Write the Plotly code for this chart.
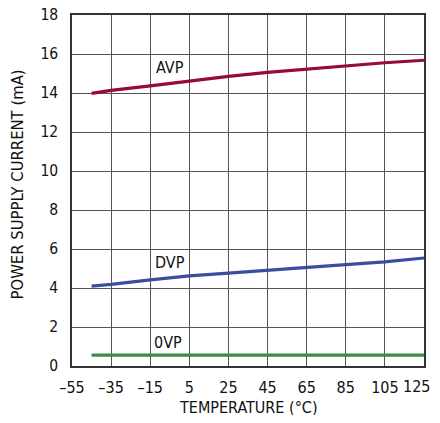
import plotly.graph_objects as go

temps = [-45, -35, -15, 5, 25, 45, 65, 85, 105, 125]
avp = [13.98, 14.13, 14.37, 14.62, 14.85, 15.06, 15.23, 15.39, 15.55, 15.68]
dvp = [4.10, 4.19, 4.42, 4.62, 4.76, 4.92, 5.07, 5.20, 5.34, 5.54]
ovp = [0.56, 0.56, 0.56, 0.56, 0.56, 0.56, 0.56, 0.56, 0.56, 0.56]

x_ticks = [-55, -35, -15, 5, 25, 45, 65, 85, 105, 125]
x_ticktext = ["–55", "–35", "–15", "5", "25", "45", "65", "85", "105", "125"]
y_ticks = [0, 2, 4, 6, 8, 10, 12, 14, 16, 18]

labels = ["AVP", "DVP", "0VP"]
label_x = [-5, -5, -6]
label_y = [15.3, 5.3, 1.2]

FONT = "DejaVu Sans Condensed, Liberation Sans, sans-serif"

fig = go.Figure()
for ys, col in [(avp, "#960c33"), (dvp, "#3a4e9f"), (ovp, "#3b8c4a")]:
    fig.add_trace(go.Scatter(x=temps, y=ys, mode="lines",
                             line=dict(color=col, width=3.2), showlegend=False))

for t, lx, ly in zip(labels, label_x, label_y):
    fig.add_annotation(x=lx, y=ly, text=t, showarrow=False,
                       font=dict(family=FONT, size=16, color="#111"))

# last x tick label drawn right-anchored so it stays inside the page
shown_ticktext = x_ticktext[:-1] + [""]
fig.add_annotation(x=x_ticks[-1], xref="x", yref="paper", y=0, yshift=-20,
                   xanchor="right", yanchor="middle", xshift=8,
                   text=x_ticktext[-1], showarrow=False,
                   font=dict(family=FONT, size=16, color="#111"))

# axis titles
fig.add_annotation(xref="paper", yref="paper", x=0.5, y=0, yshift=-41,
                   xanchor="center", yanchor="middle",
                   text="TEMPERATURE (°C)", showarrow=False,
                   font=dict(family=FONT, size=16, color="#111"))
fig.add_annotation(xref="paper", yref="paper", x=0, y=0.5, xshift=-55, yshift=6,
                   xanchor="center", yanchor="middle",
                   text="POWER SUPPLY CURRENT (mA)", textangle=-90, showarrow=False,
                   font=dict(family=FONT, size=16.5, color="#111"))

fig.update_layout(
    width=432, height=407,
    margin=dict(l=64, r=16, t=7, b=49, autoexpand=False),
    paper_bgcolor="white", plot_bgcolor="white",
    font=dict(family=FONT, size=16, color="#111"),
    xaxis=dict(range=[-55, 125], tickvals=x_ticks, ticktext=shown_ticktext,
               showgrid=True, gridcolor="#555", gridwidth=1,
               showline=True, linecolor="#333", linewidth=1.5, mirror=True,
               zeroline=False, ticks="", ticklabelstandoff=6, automargin=False,
               ticklabeloverflow="allow"),
    yaxis=dict(range=[0, 18], tickvals=y_ticks,
               showgrid=True, gridcolor="#555", gridwidth=1,
               showline=True, linecolor="#333", linewidth=1.5, mirror=True,
               zeroline=False, ticks="", ticklabelstandoff=9, automargin=False,
               ticklabeloverflow="allow", tickfont=dict(size=15.5)),
)

fig.write_html("out.html")
